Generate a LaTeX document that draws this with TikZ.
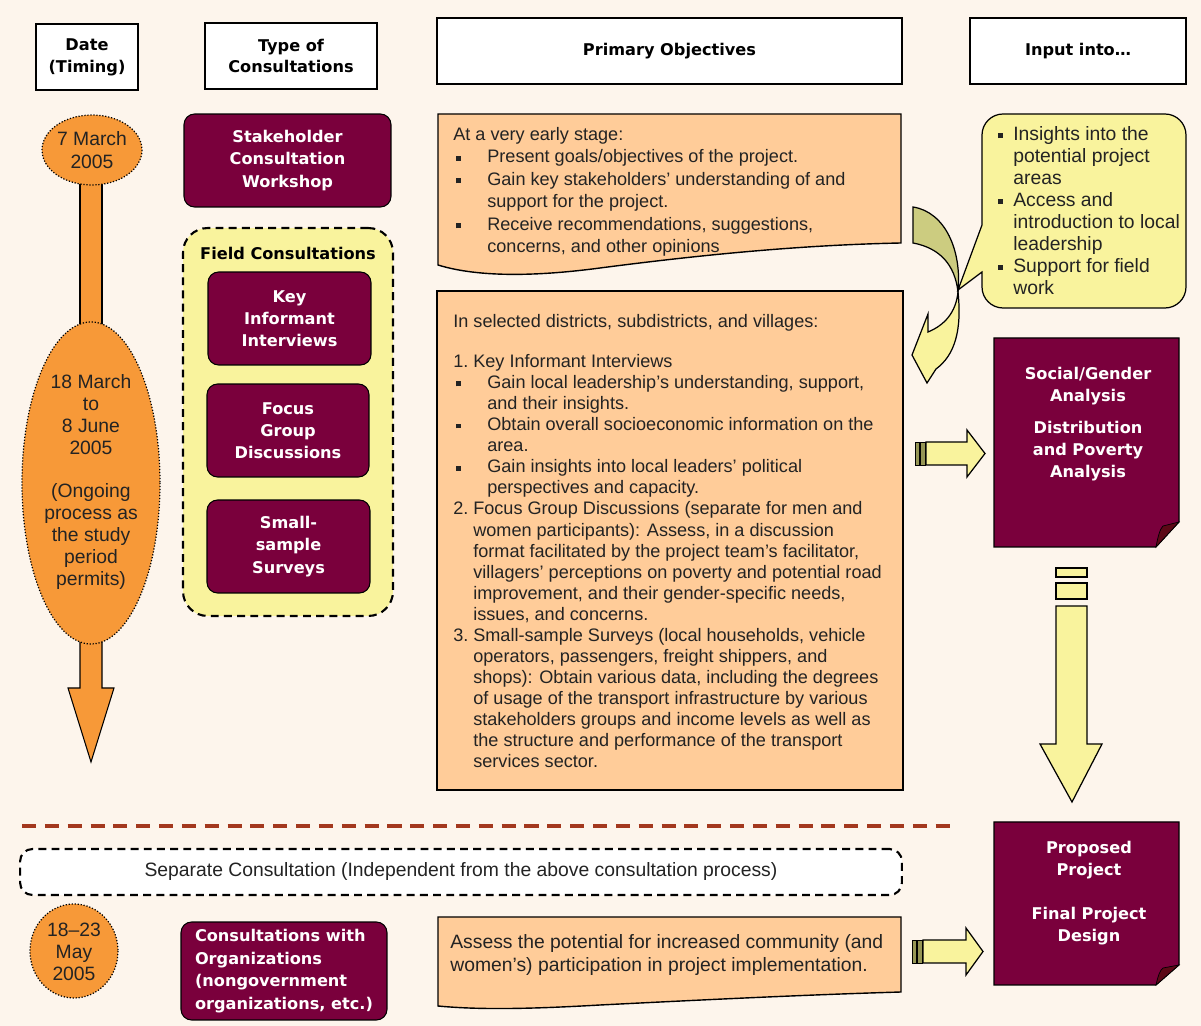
\documentclass[tikz,border=0pt]{standalone}
\usepackage{fontspec}
\setmainfont{Liberation Sans}
\newfontfamily\dvsans{DejaVu Sans}
\usepackage{tikz}
\usetikzlibrary{positioning,calc,shapes.geometric}

\definecolor{bgcream}{RGB}{253,245,236}
\definecolor{boxmaroon}{RGB}{122,0,60}
\definecolor{folddark}{RGB}{92,8,22}
\definecolor{dateorange}{RGB}{247,153,56}
\definecolor{peach}{RGB}{255,204,153}
\definecolor{paleyellow}{RGB}{249,243,157}
\definecolor{oliveshade}{RGB}{204,204,128}
\definecolor{stripeolive}{RGB}{150,150,85}
\definecolor{dashbrown}{RGB}{163,56,30}
\definecolor{inkgray}{RGB}{35,35,35}

\newcommand{\sqbul}[1]{\makebox[#1][l]{\hspace{0.06cm}\rule[0.22ex]{2.8pt}{2.8pt}}}
\newcommand{\numlab}[1]{\makebox[0.4cm][l]{#1}}

\begin{document}
\begin{tikzpicture}[x=0.02cm,y=-0.02cm,
    hdrbox/.style={draw=black, line width=1.1pt, fill=white, align=center, inner sep=0pt,
        font=\dvsans\bfseries\fontsize{9.2}{12.5}\selectfont},
    maroonbox/.style={draw=black, line width=0.6pt, fill=boxmaroon, rounded corners=6pt, text=white,
        align=center, inner sep=0pt, font=\dvsans\bfseries\fontsize{9.2}{12.6}\selectfont},
    doctxt/.style={text=white, align=center, inner sep=0pt, font=\dvsans\bfseries\fontsize{9.2}{12.5}\selectfont},
    dateell/.style={fill=dateorange, draw=black, densely dotted, line width=0.7pt},
    datetxt/.style={align=center, inner sep=0pt, text=inkgray, font=\fontsize{11}{12.7}\selectfont},
    peachdoc/.style={fill=peach, draw=black, line width=0.8pt},
    bodytxt/.style={anchor=north west, align=left, inner sep=0pt, text=inkgray},
    yelarrow/.style={fill=paleyellow, draw=black, line width=0.7pt},
    stripe/.style={fill=stripeolive, draw=black, line width=0.4pt},
    dashframe/.style={draw=black, dashed, line width=1.2pt, dash pattern=on 4.5pt off 3pt}]

\fill[bgcream] (0,0) rectangle (1201,1026);
\useasboundingbox (0,0) rectangle (1201,1026);

% column heads
\node[hdrbox, minimum width=2.04cm, minimum height=1.32cm] (hdate) at (87,57) {Date\\(Timing)};
\node[hdrbox, minimum width=3.44cm, minimum height=1.32cm] (htype) at (291,56) {Type of\\Consultations};
\node[hdrbox, minimum width=9.3cm, minimum height=1.32cm] (hobj) at (669.5,51) {Primary Objectives};
\node[hdrbox, minimum width=4.32cm, minimum height=1.32cm] (hinput) at (1078,51) {Input into\dots};

% time line
\draw[fill=dateorange, draw=black, line width=0.6pt] (80,175) rectangle (102,330);
\draw[fill=dateorange, draw=black, line width=0.6pt] (80,630) -- (80,688) -- (68,688) -- (91,762) -- (114,688) -- (102,688) -- (102,630);
\draw[dateell] (92,150) ellipse [x radius=50, y radius=35];
\node[datetxt] (dmarch) at (92,150) {7 March\\2005};
\draw[dateell] (91,483) ellipse [x radius=69, y radius=161];
\node[datetxt, font=\fontsize{11}{12.5}\selectfont] (dfield) at (91,482) {18 March\\to\\8 June\\2005\\[12.5pt](Ongoing\\process as\\the study\\period\\permits)};
\draw[dateell] (74,951) ellipse [x radius=44, y radius=47];
\node[datetxt, font=\fontsize{11}{12.5}\selectfont] (dmay) at (74,952) {18--23\\May\\2005};

% consultation types
\node[maroonbox, minimum width=4.14cm, minimum height=1.86cm] (workshop) at (287.5,160.5) {Stakeholder\\Consultation\\Workshop};
\node[dashframe, fill=paleyellow, rounded corners=14pt, minimum width=4.2cm, minimum height=7.76cm] (field) at (288,422) {};
\node[inner sep=0pt, font=\dvsans\bfseries\fontsize{9.2}{11}\selectfont] (fieldhead) at (288,253) {Field Consultations};
\node[maroonbox, minimum width=3.26cm, minimum height=1.86cm] (kii) at (289.5,318.5) {Key\\Informant\\Interviews};
\node[maroonbox, minimum width=3.24cm, minimum height=1.86cm] (fgd) at (288,430.5) {Focus\\Group\\Discussions};
\node[maroonbox, minimum width=3.26cm, minimum height=1.86cm] (survey) at (288.5,546.5) {Small-\\sample\\Surveys};
\node[maroonbox, align=left, minimum width=4.12cm, minimum height=1.96cm,
    font=\dvsans\bfseries\fontsize{9.2}{12.9}\selectfont] (ngo) at (284,971) {Consultations with\\Organizations\\(nongovernment\\organizations, etc.)};

% objectives
\draw[peachdoc] (438,114) -- (901,114) -- (901,243) .. controls (800,245) and (700,255) .. (600,268) .. controls (540,276) and (480,278) .. (438,265) -- cycle;
\node[bodytxt, font=\fontsize{10.3}{12.8}\selectfont] (earlytxt) at (453,127) {At a very early stage:\\
\sqbul{0.68cm}Present goals/objectives of the project.\\
\sqbul{0.68cm}Gain key stakeholders’ understanding of and\\
\hspace*{0.68cm}support for the project.\\
\sqbul{0.68cm}Receive recommendations, suggestions,\\
\hspace*{0.68cm}concerns, and other opinions};

\node[peachdoc, line width=1.2pt, minimum width=9.32cm, minimum height=9.98cm] (fieldobj) at (670,540.5) {};
\node[bodytxt, font=\fontsize{10.3}{12}\selectfont] (fieldtxt) at (453,314) {In selected districts, subdistricts, and villages:\\[10.7pt]
\numlab{1.}Key Informant Interviews\\
\sqbul{0.68cm}Gain local leadership’s understanding, support,\\
\hspace*{0.68cm}and their insights.\\
\sqbul{0.68cm}Obtain overall socioeconomic information on the\\
\hspace*{0.68cm}area.\\
\sqbul{0.68cm}Gain insights into local leaders’ political\\
\hspace*{0.68cm}perspectives and capacity.\\
\numlab{2.}Focus Group Discussions (separate for men and\\
\hspace*{0.4cm}women participants): Assess, in a discussion\\
\hspace*{0.4cm}format facilitated by the project team’s facilitator,\\
\hspace*{0.4cm}villagers’ perceptions on poverty and potential road\\
\hspace*{0.4cm}improvement, and their gender-specific needs,\\
\hspace*{0.4cm}issues, and concerns.\\
\numlab{3.}Small-sample Surveys (local households, vehicle\\
\hspace*{0.4cm}operators, passengers, freight shippers, and\\
\hspace*{0.4cm}shops): Obtain various data, including the degrees\\
\hspace*{0.4cm}of usage of the transport infrastructure by various\\
\hspace*{0.4cm}stakeholders groups and income levels as well as\\
\hspace*{0.4cm}the structure and performance of the transport\\
\hspace*{0.4cm}services sector.};

\draw[peachdoc] (438,917) -- (901,917) -- (901,992) .. controls (800,995) and (700,1000) .. (600,1005) .. controls (530,1009) and (480,1010) .. (438,1006) -- cycle;
\node[bodytxt, font=\fontsize{11}{13}\selectfont] (ngotxt) at (450,934) {Assess the potential for increased community (and\\women’s) participation in project implementation.};

% inputs
\draw[fill=paleyellow, draw=black, line width=0.7pt] (982,225) [rounded corners=12pt] -- (982,114) -- (1186,114) -- (1186,308) -- (982,308) [sharp corners] -- (982,272) -- (958,290) -- cycle;
\node[bodytxt, font=\fontsize{11}{12.5}\selectfont] (insight) at (995,126) {\sqbul{0.36cm}Insights into the\\
\hspace*{0.36cm}potential project\\
\hspace*{0.36cm}areas\\
\sqbul{0.36cm}Access and\\
\hspace*{0.36cm}introduction to local\\
\hspace*{0.36cm}leadership\\
\sqbul{0.36cm}Support for field\\
\hspace*{0.36cm}work};

\draw[fill=oliveshade, draw=black, line width=0.7pt] (913,207) .. controls (945,212) and (962,250) .. (958,292) .. controls (955,265) and (940,248) .. (913,243) -- cycle;
\draw[yelarrow] (958,292) .. controls (956,312) and (945,325) .. (928,332) -- (928,314) -- (912,355) -- (927,383) -- (936,369) .. controls (955,355) and (962,330) .. (958,292) -- cycle;

\fill[boxmaroon, draw=black, line width=0.6pt] (994,338) -- (1179,338) -- (1179,522) -- (1156,547) -- (994,547) -- cycle;
\fill[folddark, draw=black, line width=0.4pt] (1156,547) .. controls (1158,536) and (1160,529) .. (1163,526) -- (1179,522) -- cycle;
\node[doctxt] (gender) at (1088,424) {Social/Gender\\Analysis\\[5.5pt]Distribution\\and Poverty\\Analysis};

\fill[boxmaroon, draw=black, line width=0.6pt] (994,822) -- (1179,822) -- (1179,965) -- (1156,985) -- (994,985) -- cycle;
\fill[folddark, draw=black, line width=0.4pt] (1156,985) .. controls (1158,976) and (1160,970) .. (1163,968) -- (1179,965) -- cycle;
\node[doctxt] (design) at (1089,893) {Proposed\\Project\\[12.5pt]Final Project\\Design};

% block arrows
\draw[stripe] (915,442) rectangle (919,465);
\draw[stripe] (920,442) rectangle (925,465);
\draw[yelarrow] (926,442) -- (967,442) -- (967,430) -- (985,453.5) -- (967,477) -- (967,465) -- (926,465) -- cycle;

\draw[stripe] (912,940) rectangle (916,963);
\draw[stripe] (917,940) rectangle (922,963);
\draw[yelarrow] (923,940) -- (966,940) -- (966,928) -- (983,951.5) -- (966,975) -- (966,963) -- (923,963) -- cycle;

\draw[yelarrow] (1056,568) rectangle (1087,577);
\draw[yelarrow] (1056,583) rectangle (1087,599);
\draw[yelarrow] (1056,606) -- (1087,606) -- (1087,744) -- (1102,744) -- (1072,802) -- (1040,744) -- (1056,744) -- cycle;

% separate consultation
\coordinate (cutL) at (22,826);
\coordinate (cutR) at (950,826);
\draw[dashbrown, line width=2.8pt, dash pattern=on 8pt off 5pt] (cutL) -- (cutR);
\node[dashframe, fill=white, rounded corners=7pt, minimum width=17.64cm, minimum height=0.92cm,
    text=inkgray, font=\fontsize{11}{12}\selectfont] (sepnote) at (461,872) {Separate Consultation (Independent from the above consultation process)};

\end{tikzpicture}
\end{document}
